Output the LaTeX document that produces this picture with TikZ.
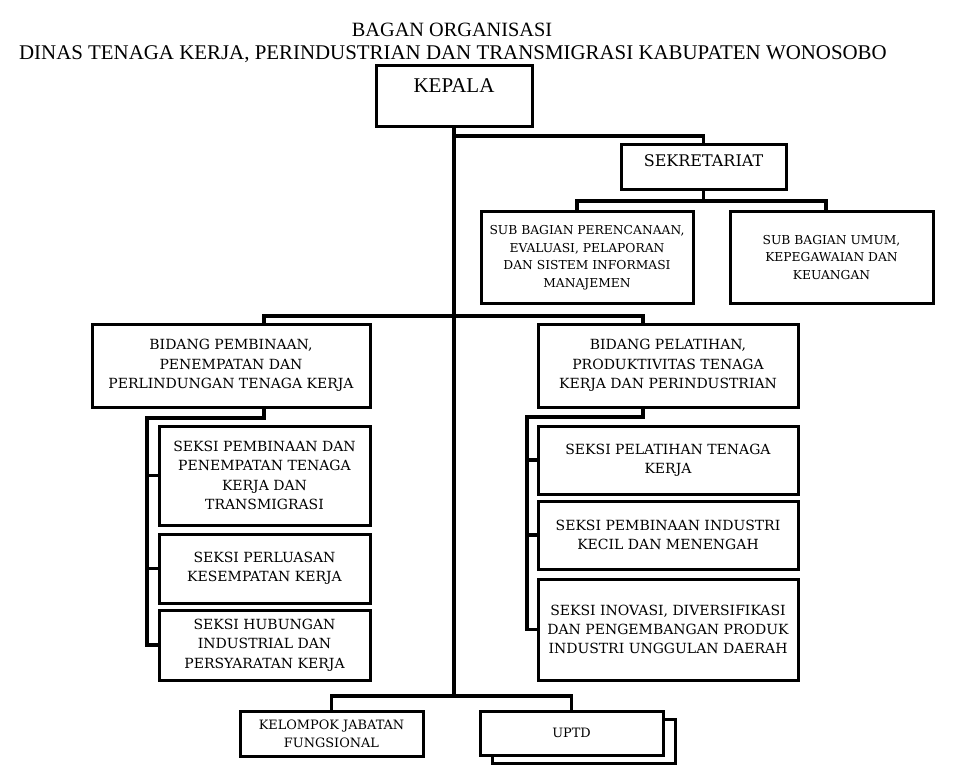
\documentclass[tikz,border=0pt]{standalone}
\usepackage{fontspec}
\setmainfont{DejaVu Serif}
\newfontfamily\titlefont{Liberation Serif}
\usetikzlibrary{positioning}

\begin{document}
\begin{tikzpicture}[x=1pt,y=-1pt,
		unit/.style={draw,fill=white,line width=3pt,align=center,inner sep=0pt,font=\fontsize{14}{19.3}\selectfont},
		subunit/.style={unit,font=\fontsize{12.3}{17.5}\selectfont},
		lowunit/.style={unit,font=\fontsize{12.9}{18}\selectfont},
		conn/.style={line width=3.2pt}]
		%\draw[help lines,step=50] (0,0) grid (956,778);
		\useasboundingbox (0,0) rectangle (956,778);
		% title
		\node[anchor=base,font=\titlefont\fontsize{20.3}{24}\selectfont] (judul1) at (452,37) {BAGAN ORGANISASI};
		\node[anchor=base,font=\titlefont\fontsize{20.9}{24}\selectfont] (judul2) at (453,60) {DINAS TENAGA KERJA, PERINDUSTRIAN DAN TRANSMIGRASI KABUPATEN WONOSOBO};
		% top
		\node[unit,font=\titlefont\fontsize{21}{24}\selectfont,minimum width=156,text height=27pt,text depth=34pt] (kepala) at (454,96.5) {KEPALA};
		\node[unit,font=\fontsize{16}{20}\selectfont,minimum width=165,text height=22pt,text depth=23pt] (sekre) at (703.5,167.5) {SEKRETARIAT};
		\node[subunit,minimum width=212,minimum height=91] (sub1) at (587,257.5) {SUB BAGIAN PERENCANAAN,\\EVALUASI, PELAPORAN\\DAN SISTEM INFORMASI\\MANAJEMEN};
		\node[subunit,minimum width=203,minimum height=91] (sub2) at (831.5,257.5) {SUB BAGIAN UMUM,\\KEPEGAWAIAN DAN\\KEUANGAN};
		% left
		\node[unit,minimum width=278,minimum height=83] (bid1) at (231,365.5) {BIDANG PEMBINAAN,\\PENEMPATAN DAN\\PERLINDUNGAN TENAGA KERJA};
		\node[unit,minimum width=211,minimum height=99] (sk1) at (264.5,475.5) {SEKSI PEMBINAAN DAN\\PENEMPATAN TENAGA\\KERJA DAN\\TRANSMIGRASI};
		\node[unit,minimum width=211,minimum height=69] (sk2) at (264.5,568.5) {SEKSI PERLUASAN\\KESEMPATAN KERJA};
		\node[unit,minimum width=211,minimum height=70] (sk3) at (264.5,645) {SEKSI HUBUNGAN\\INDUSTRIAL DAN\\PERSYARATAN KERJA};
		% right
		\node[unit,minimum width=260,minimum height=83] (bid2) at (668,365.5) {BIDANG PELATIHAN,\\PRODUKTIVITAS TENAGA\\KERJA DAN PERINDUSTRIAN};
		\node[unit,minimum width=260,minimum height=68] (sk4) at (668,460) {SEKSI PELATIHAN TENAGA\\KERJA};
		\node[unit,minimum width=260,minimum height=68] (sk5) at (668,535) {SEKSI PEMBINAAN INDUSTRI\\KECIL DAN MENENGAH};
		\node[unit,minimum width=260,minimum height=101] (sk6) at (668,629.5) {SEKSI INOVASI, DIVERSIFIKASI\\DAN PENGEMBANGAN PRODUK\\INDUSTRI UNGGULAN DAERAH};
		% bottom
		\node[lowunit,minimum width=183,minimum height=45] (kel) at (331.5,733.5) {KELOMPOK JABATAN\\FUNGSIONAL};
		\node[lowunit,minimum width=183,minimum height=44] (uptdb) at (583.5,741.5) {};
		\node[lowunit,minimum width=183,minimum height=44] (uptd) at (571.5,733) {UPTD};
		% junctions
		\coordinate (cabang1) at (454,136);
		\coordinate (cabang2) at (703.5,201);
		\coordinate (cabang3) at (454,316);
		\coordinate (tulang1) at (147,418);
		\coordinate (tulang2) at (527,417);
		\coordinate (pusat) at (454,696);
		% lines
		\draw[conn] (kepala.south) -- (pusat);
		\draw[conn] (cabang1) -| (sekre.north);
		\draw[conn] (sekre.south) -- (cabang2);
		\draw[conn] ([xshift=-10pt]sub1.north) |- (cabang2) -| ([xshift=-5.5pt]sub2.north);
		\draw[conn] ([xshift=33pt]bid1.north) |- (cabang3) -| ([xshift=-25pt]bid2.north);
		\draw[conn] ([xshift=33pt]bid1.south) |- (tulang1) |- (sk3.west);
		\draw[conn] (sk1.west) -- (sk1.west -| tulang1);
		\draw[conn] (sk2.west) -- (sk2.west -| tulang1);
		\draw[conn] ([xshift=-25pt]bid2.south) |- (tulang2) |- (sk6.west);
		\draw[conn] (sk4.west) -- (sk4.west -| tulang2);
		\draw[conn] (sk5.west) -- (sk5.west -| tulang2);
		\draw[conn] (kel.north) |- (pusat) -| (uptd.north);
\end{tikzpicture}
\end{document}
